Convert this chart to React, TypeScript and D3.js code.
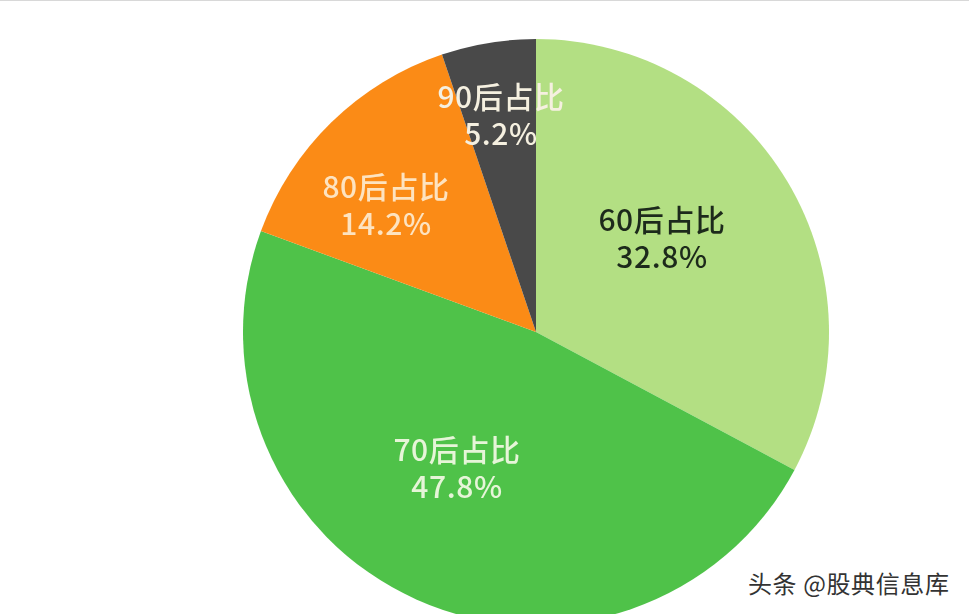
import React from "react";
import * as d3 from "d3";

const categories = ["60后占比", "70后占比", "80后占比", "90后占比"];
const shares = [32.8, 47.8, 14.2, 5.2];
const sliceColors = ["#b3df83", "#50c24a", "#fb8b17", "#4a4a4a"];
const labelColors = ["#1f2a1a", "#e6f5d8", "#fde3c0", "#f5f0e0"];
const labelPos: [number, number][] = [[662, 221], [457, 451], [386, 188], [501, 98]];

const cx = 536, cy = 332, r = 293;

export default function App() {
  const pie = d3.pie<number>().sort(null).value(d => d)(shares);
  const arc = d3.arc<d3.PieArcDatum<number>>().innerRadius(0).outerRadius(r);
  return (
    <svg width={969} height={614} viewBox="0 0 969 614" style={{ position: "absolute", left: 0, top: 0, background: "#fff" }}>
      <defs>
        <filter id="soft"><feGaussianBlur stdDeviation="0.7" /></filter>
      </defs>
      <rect x={0} y={0} width={969} height={1} fill="#d8d8d8" />
      <g filter="url(#soft)">
        <g transform={`translate(${cx},${cy})`}>
          {pie.map((p, i) => <path key={i} d={arc(p) || ""} fill={sliceColors[i]} />)}
        </g>
        {categories.map((c, i) => (
          <text key={c} textAnchor="middle" fontFamily="'Noto Sans CJK SC', sans-serif" fontSize={30} letterSpacing={0.6} fontWeight={500} fill={labelColors[i]}>
            <tspan x={labelPos[i][0]} y={labelPos[i][1] + 10}>{c}</tspan>
            <tspan x={labelPos[i][0]} y={labelPos[i][1] + 47}>{shares[i].toFixed(1)}%</tspan>
          </text>
        ))}
      </g>
      <text x={748} y={593} fontFamily="'Noto Sans CJK SC', sans-serif" fontSize={24} letterSpacing={0.6} fill="#333">头条 @股典信息库</text>
    </svg>
  );
}
